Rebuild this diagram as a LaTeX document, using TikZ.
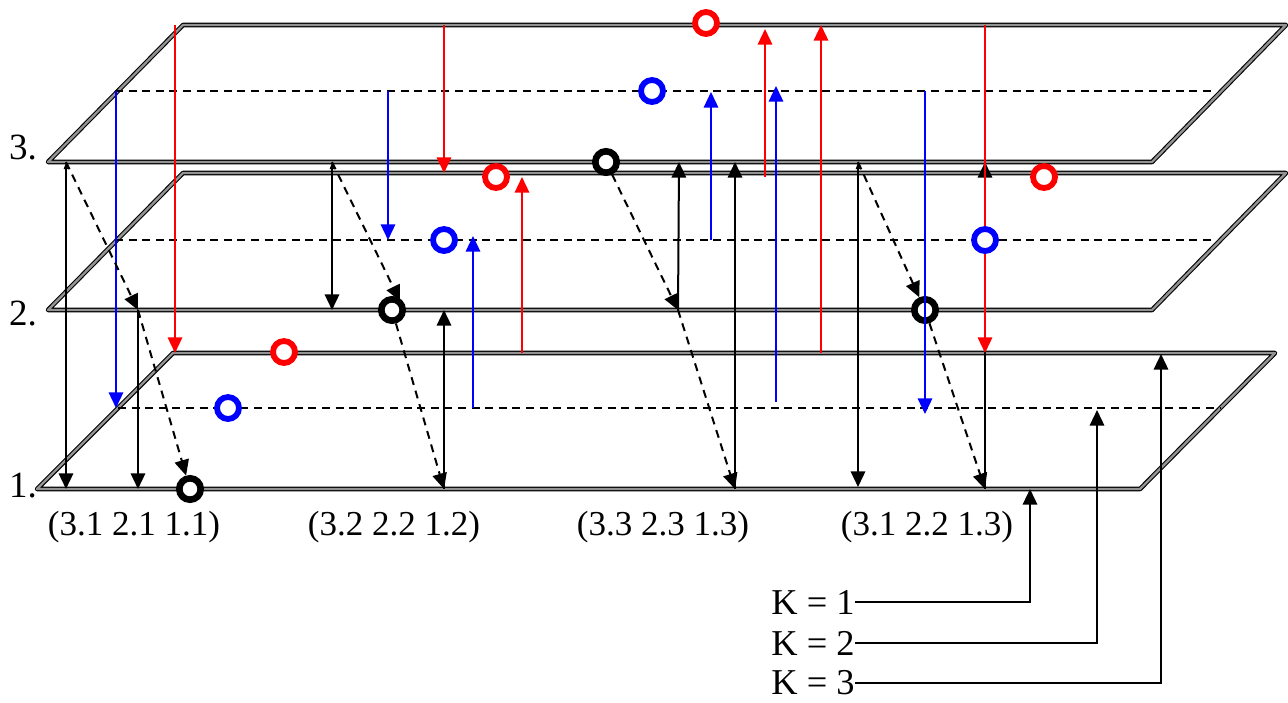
\documentclass[tikz,border=0pt]{standalone}
\usepackage{fontspec}
\setmainfont{Liberation Serif}
\usetikzlibrary{arrows.meta}
\begin{document}
\begin{tikzpicture}[x=0.5pt,y=-0.5pt,
  plane/.style={draw=black, line width=0.55pt, double=gray!85, double distance=1.2pt, line join=round},
  midline/.style={draw=black, line width=1pt, dash pattern=on 4pt off 2.8pt},
  arrtip/.style={-{Triangle[length=7.8pt,width=7.2pt]}},
  blk/.style={draw=black, line width=1pt, arrtip},
  blks/.style={draw=black, line width=1pt, {Triangle[length=3.5pt,width=2pt]}-{Triangle[length=7.8pt,width=7.2pt]}},
  dsh/.style={draw=black, line width=1pt, dash pattern=on 4pt off 3pt, arrtip},
  redar/.style={draw=red, line width=1pt, arrtip},
  bluar/.style={draw=blue, line width=1pt, arrtip},
  ring/.style={circle, draw=#1, line width=2.9pt, fill=white, minimum size=11pt, inner sep=0pt},
  bring/.style={circle, draw=black, line width=3.3pt, fill=white, minimum size=10.7pt, inner sep=0pt},
  lbl/.style={font=\fontsize{17.5}{20}\selectfont, inner sep=0pt},
  klbl/.style={font=\fontsize{18.2}{21}\selectfont, inner sep=0pt, anchor=east},
]
\useasboundingbox (0,0) rectangle (1288,702);

% planes
\draw[plane] (48,162) -- (1152,162) -- (1286,25) -- (183,25) -- cycle;
\draw[plane] (48,310) -- (1152,310) -- (1286,173) -- (183,173) -- cycle;
\draw[plane] (37,489) -- (1140,489) -- (1275,353) -- (173,353) -- cycle;
\draw[midline] (115,91) -- (1213,91);
\draw[midline] (115,240) -- (1213,240);
\draw[midline] (118,408) -- (1220,408);

% layer labels
\node[lbl, font=\fontsize{18.5}{22}\selectfont] (l3) at (23,148) {3.};
\node[lbl, font=\fontsize{18.5}{22}\selectfont] (l2) at (23,314) {2.};
\node[lbl, font=\fontsize{18.5}{22}\selectfont] (l1) at (23,486) {1.};

% combination labels
\node[lbl] (t1) at (134,527) {(3.1 2.1 1.1)};
\node[lbl] (t2) at (394,527) {(3.2 2.2 1.2)};
\node[lbl] (t3) at (663,527) {(3.3 2.3 1.3)};
\node[lbl] (t4) at (927,527) {(3.1 2.2 1.3)};

% K labels
\node[klbl] (ka) at (855,602) {K = 1};
\node[klbl] (kb) at (855,643) {K = 2};
\node[klbl] (kc) at (855,683) {K = 3};

% coordinates: group 1
\coordinate (a3) at (66,162);
\coordinate (a1) at (66,489);
\coordinate (a2) at (138,310);
\coordinate (a2b) at (138,489);
% group 2
\coordinate (b3) at (332,162);
\coordinate (b2) at (332,310);
\coordinate (b2t) at (400,301);
\coordinate (b1) at (444,489);
\coordinate (b2u) at (444,310);
% group 3
\coordinate (c2) at (678,310);
\coordinate (c3u) at (679,162);
\coordinate (c1) at (735,489);
\coordinate (c3v) at (735,162);
% group 4
\coordinate (d3) at (858,162);
\coordinate (d1v) at (858,487);
\coordinate (d1) at (985,489);
\coordinate (d3v) at (985,162);
% K targets
\coordinate (kt1) at (1030,489);
\coordinate (kt2) at (1097,410);
\coordinate (kt3) at (1161,354);

% red arrows
\coordinate (ra1) at (175,25);  \coordinate (ra2) at (175,353);
\coordinate (rb1) at (444,25);  \coordinate (rb2) at (444,173);
\coordinate (rc1) at (522,353); \coordinate (rc2) at (522,177);
\coordinate (rd1) at (765,177); \coordinate (rd2) at (765,29);
\coordinate (re1) at (821,353); \coordinate (re2) at (821,25);
\coordinate (rf1) at (985,25);  \coordinate (rf2) at (985,353);
% blue arrows
\coordinate (ba1) at (116,91);  \coordinate (ba2) at (116,408);
\coordinate (bb1) at (388,91);  \coordinate (bb2) at (388,240);
\coordinate (bc1) at (473,408); \coordinate (bc2) at (473,236);
\coordinate (bd1) at (711,240); \coordinate (bd2) at (711,92);
\coordinate (be1) at (776,402); \coordinate (be2) at (776,86);
\coordinate (bf1) at (925,91);  \coordinate (bf2) at (925,414);

% black vertical arrows
\draw[blks] (a3) -- (a1);
\draw[blk] (a2) -- (a2b);
\draw[blks] (b3) -- (b2);
\draw[blk] (b1) -- (b2u);
\draw[blk] (c2) -- (c3u);
\draw[blk] (c1) -- (c3v);
\draw[blks] (d3) -- (d1v);
\draw[blk] (d1) -- (d3v);

% red and blue arrows
\draw[redar] (ra1) -- (ra2);
\draw[redar] (rb1) -- (rb2);
\draw[redar] (rc1) -- (rc2);
\draw[redar] (rd1) -- (rd2);
\draw[redar] (re1) -- (re2);
\draw[redar] (rf1) -- (rf2);
\draw[bluar] (ba1) -- (ba2);
\draw[bluar] (bb1) -- (bb2);
\draw[bluar] (bc1) -- (bc2);
\draw[bluar] (bd1) -- (bd2);
\draw[bluar] (be1) -- (be2);

% circles
\node[ring=red] (r3) at (706,23) {};
\node[ring=red] (r2a) at (496,177) {};
\node[ring=red] (r1) at (284,352) {};
\node[ring=red] (r2b) at (1044,177) {};
\node[ring=blue] (u3) at (652,91) {};
\node[ring=blue] (u2a) at (444,240) {};
\node[ring=blue] (u1) at (228,408) {};
\node[ring=blue] (u2b) at (985,240) {};
\node[bring] (k1c) at (190,489) {};
\node[bring] (k2c) at (392,310) {};
\node[bring] (k3c) at (606,162) {};
\node[bring] (k4c) at (925,310) {};

\draw[bluar] (bf1) -- (bf2);

% dashed paths
\draw[dsh] (a3) -- (a2);
\draw[dsh] (a2) -- (k1c);
\draw[dsh] (b3) -- (b2t);
\draw[dsh] (k2c) -- (b1);
\draw[dsh] (k3c) -- (c2);
\draw[dsh] (c2) -- (c1);
\draw[dsh] (d3) -- (k4c);
\draw[dsh] (k4c) -- (d1);

% K connectors
\draw[blk] (ka.east) -| (kt1);
\draw[blk] (kb.east) -| (kt2);
\draw[blk] (kc.east) -| (kt3);
\end{tikzpicture}
\end{document}
